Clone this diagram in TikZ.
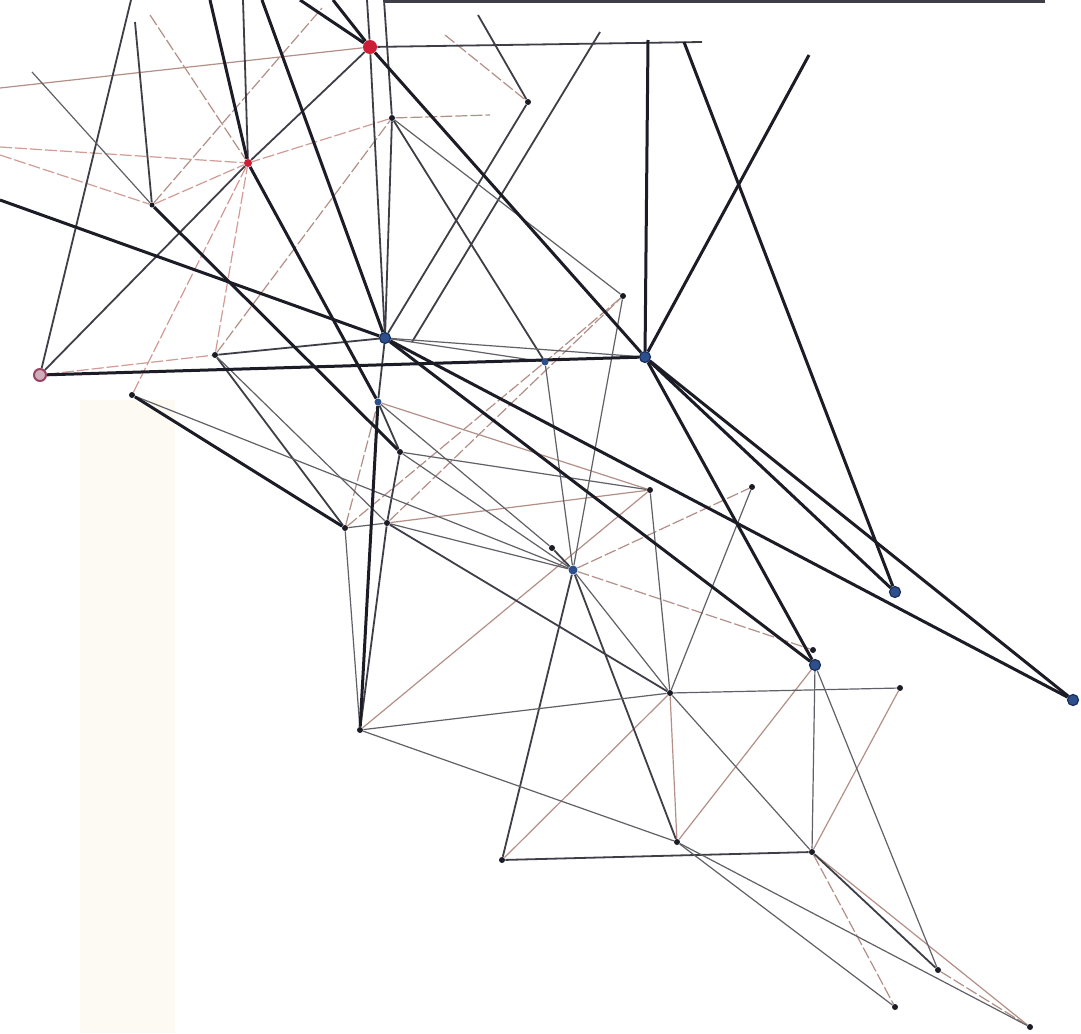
\documentclass[tikz,border=0pt]{standalone}
\usetikzlibrary{backgrounds}
\definecolor{ink}{RGB}{28,28,38}
\definecolor{navy}{RGB}{25,45,90}
\definecolor{steel}{RGB}{45,80,140}
\definecolor{pin}{RGB}{205,30,55}
\definecolor{plum}{RGB}{150,70,100}
\definecolor{rust}{RGB}{160,115,105}
\definecolor{blush}{RGB}{210,155,150}
\definecolor{cream}{RGB}{253,250,243}
\begin{document}
\begin{tikzpicture}[x=0.5pt, y=-0.5pt,
    heavy/.style={draw=ink, line width=1.5pt},
    mid/.style={draw=ink!85, line width=0.9pt},
    thin/.style={draw=ink!70, line width=0.6pt},
    faint/.style={draw=rust!80, line width=0.6pt},
    faintd/.style={faint, dash pattern=on 6pt off 1.5pt},
    pinkd/.style={draw=blush, line width=0.6pt, dash pattern=on 6pt off 1.5pt},
    dot/.style={circle, fill=ink, inner sep=0pt, minimum size=3pt},
    bluedot/.style={circle, fill=steel, inner sep=0pt, minimum size=3.5pt},
    hub/.style={circle, fill=steel, draw=navy, line width=0.6pt, inner sep=0pt, minimum size=5.5pt},
    redhub/.style={circle, fill=pin, inner sep=0pt, minimum size=7pt},
    ring/.style={circle, fill=plum!45, draw=plum, line width=1pt, inner sep=0pt, minimum size=6pt},
]
\useasboundingbox (0,0) rectangle (1081,1033);

\node[redhub] (ra) at (370,47) {};
\node[redhub, minimum size=4pt] (rb) at (248,163) {};
\node[ring] (rc) at (40,375) {};
\node[dot] (ca) at (392,118) {};
\node[dot] (cb) at (528,102) {};
\node[dot, minimum size=2.5pt] (ea) at (152,205) {};
\node[dot] (ga) at (215,355) {};
\node[dot] (ha) at (132,395) {};
\node[hub] (ba) at (385,338) {};
\node[bluedot] (ja) at (545,362) {};
\node[hub] (bb) at (645,357) {};
\node[dot] (la) at (623,296) {};
\node[bluedot] (ma) at (378,402) {};
\node[dot] (na) at (400,452) {};
\node[dot] (oa) at (345,528) {};
\node[dot] (pa) at (387,523) {};
\node[dot] (qa) at (650,490) {};
\node[dot] (rd) at (752,487) {};
\node[dot] (sa) at (552,548) {};
\node[bluedot, minimum size=4.5pt] (ta) at (573,570) {};
\node[hub] (bc) at (895,592) {};
\node[dot] (va) at (813,650) {};
\node[hub] (bd) at (815,665) {};
\node[dot] (xa) at (670,693) {};
\node[dot] (ya) at (900,688) {};
\node[hub] (be) at (1073,700) {};
\node[dot] (aa) at (360,730) {};
\node[dot] (ka) at (502,860) {};
\node[dot] (kb) at (677,842) {};
\node[dot] (kc) at (812,852) {};
\node[dot] (kd) at (938,970) {};
\node[dot] (ke) at (895,1007) {};
\node[dot] (kf) at (1030,1027) {};

\coordinate (ia) at (412,342);
\coordinate (t131) at (131,0);
\coordinate (t135) at (135,22);
\coordinate (t150) at (150,15);
\coordinate (t210) at (210,0);
\coordinate (t243) at (243,0);
\coordinate (t262) at (262,0);
\coordinate (t300) at (300,0);
\coordinate (t322) at (322,8);
\coordinate (t333) at (333,0);
\coordinate (t367) at (367,0);
\coordinate (t384) at (384,0);
\coordinate (t445) at (445,35);
\coordinate (t478) at (478,15);
\coordinate (t600) at (600,32);
\coordinate (t648) at (648,40);
\coordinate (t684) at (684,42);
\coordinate (t702) at (702,42);
\coordinate (t809) at (809,55);
\coordinate (e490) at (490,115);
\coordinate (l72) at (32,72);
\coordinate (l88) at (0,88);
\coordinate (l147) at (0,147);
\coordinate (l155) at (0,155);
\coordinate (l200) at (0,200);

\begin{scope}[on background layer]
\fill[white] (0,0) rectangle (1081,1033);
\fill[cream] (80,400) rectangle (175,1033);
\fill[ink!85] (385,0) rectangle (1045,3);

% faint strings
\draw[faint] (l88) -- (ra);
\draw[pinkd] (l147) -- (rb);
\draw[pinkd] (l155) -- (ea);
\draw[faintd] (t150) -- (rb);
\draw[pinkd] (ea) -- (rb);
\draw[faintd] (ea) -- (t322);
\draw[pinkd] (ha) -- (rb);
\draw[pinkd] (ga) -- (rb);
\draw[faintd] (ga) -- (ca);
\draw[pinkd] (rc) -- (ga);
\draw[pinkd] (ca) -- (rb);
\draw[faintd] (ca) -- (e490);
\draw[faintd] (t445) -- (cb);
\draw[faintd] (la) -- (ja);
\draw[faintd] (oa) -- (ma);
\draw[faintd] (oa) -- (ja);
\draw[faintd] (pa) -- (la);
\draw[faint] (ma) -- (qa);
\draw[faint] (pa) -- (qa);
\draw[faintd] (ta) -- (rd);
\draw[faintd] (ta) -- (va);
\draw[faint] (aa) -- (qa);
\draw[faint] (xa) -- (ka);
\draw[faint] (xa) -- (kb);
\draw[faint] (bd) -- (kb);
\draw[faint] (ya) -- (kc);
\draw[faintd] (kc) -- (ke);
\draw[faintd] (kd) -- (kf);
\draw[faint] (kc) -- (kf);

% thin and mid strings
\draw[mid] (t131) -- (rc);
\draw[mid] (t135) -- (ea);
\draw[thin] (l72) -- (ea);
\draw[mid] (t243) -- (rb);
\draw[mid] (t367) -- (ra) -- (ba);
\draw[mid] (t384) -- (ca) -- (ba);
\draw[mid] (cb) -- (ba);
\draw[mid] (t600) -- (ia);
\draw[mid] (t478) -- (cb);
\draw[thin] (ca) -- (la);
\draw[mid] (ca) -- (ja);
\draw[mid] (rc) -- (rb) -- (ra);
\draw[mid] (ga) -- (ba);
\draw[thin] (ba) -- (ja);
\draw[thin] (ba) -- (bb);
\draw[mid] (ba) -- (ma);
\draw[mid] (ga) -- (oa);
\draw[thin] (ga) -- (pa);
\draw[mid] (na) -- (pa) -- (aa);
\draw[thin] (oa) -- (aa);
\draw[thin] (oa) -- (pa);
\draw[mid] (ma) -- (na);
\draw[thin] (ma) -- (sa);
\draw[mid] (sa) -- (ta);
\draw[thin] (la) -- (ta);
\draw[thin] (ja) -- (ta);
\draw[mid] (ta) -- (ka);
\draw[mid] (ta) -- (kb);
\draw[thin] (ta) -- (xa);
\draw[thin] (pa) -- (ta);
\draw[mid] (pa) -- (xa);
\draw[thin] (ha) -- (ta);
\draw[thin] (na) -- (qa);
\draw[thin] (na) -- (ta);
\draw[thin] (qa) -- (xa);
\draw[thin] (rd) -- (xa);
\draw[thin] (aa) -- (xa);
\draw[thin] (xa) -- (ya);
\draw[thin] (xa) -- (kc);
\draw[thin] (aa) -- (kb);
\draw[mid] (ka) -- (kc);
\draw[thin] (kb) -- (kf);
\draw[thin] (kb) -- (ke);
\draw[thin] (bd) -- (kc);
\draw[thin] (bd) -- (kd);
\draw[mid] (kc) -- (kd);
\draw[mid] (ra) -- (t702);

% heavy strings
\draw[heavy] (t262) -- (ba);
\draw[heavy] (t210) -- (rb) -- (ma);
\draw[heavy] (t333) -- (ra) -- (bb);
\draw[heavy] (t300) -- (ra);
\draw[heavy] (l200) -- (ba);
\draw[heavy] (rc) -- (bb);
\draw[heavy] (ba) -- (be);
\draw[heavy] (ba) -- (bd);
\draw[heavy] (bb) -- (bc);
\draw[heavy] (bb) -- (be);
\draw[heavy] (bb) -- (bd);
\draw[heavy] (t684) -- (bc);
\draw[heavy] (t809) -- (bb);
\draw[heavy] (t648) -- (bb);
\draw[heavy] (ea) -- (na);
\draw[heavy] (ha) -- (oa);
\draw[heavy] (ma) -- (aa);
\end{scope}
\end{tikzpicture}
\end{document}
